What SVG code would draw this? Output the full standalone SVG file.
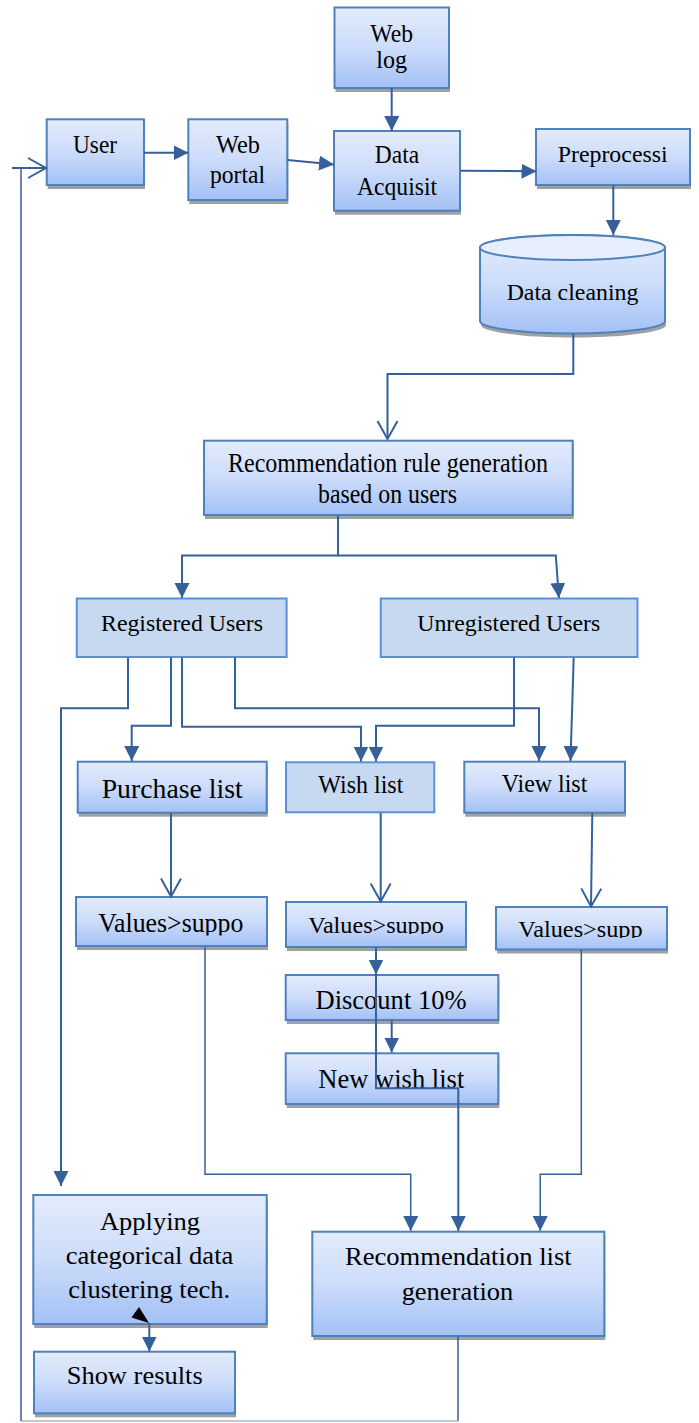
<svg xmlns="http://www.w3.org/2000/svg" width="699" height="1423" viewBox="0 0 699 1423">
<style>
.box{fill:url(#g);stroke:#4f81bd;stroke-width:2}
.flat{fill:#c6d9f1;stroke:#5b8fd9;stroke-width:2}
.sh{fill:#a0a0a0}
.t{font-family:"Liberation Serif","Times New Roman",serif;fill:#000;text-anchor:middle}
.c{fill:none;stroke:#36609a;stroke-width:2}
.c1{fill:none;stroke:#36609a;stroke-width:1.5}
.lt{fill:none;stroke:#a9b8cc;stroke-width:1.5}
</style>
<defs>
<linearGradient id="g" x1="0" y1="0" x2="0" y2="1">
<stop offset="0" stop-color="#e4ecfc"/>
<stop offset="0.5" stop-color="#ccdcfa"/>
<stop offset="1" stop-color="#a3c1f6"/>
</linearGradient>
<marker id="af" markerUnits="userSpaceOnUse" markerWidth="16" markerHeight="16" refX="15" refY="7.5" orient="auto" viewBox="0 0 16 16"><path d="M0,0 L15,7.5 L0,15 z" fill="#36609a"/></marker>
<marker id="av" markerUnits="userSpaceOnUse" markerWidth="22" markerHeight="24" refX="19" refY="11" orient="auto" viewBox="0 0 22 24"><path d="M1,1 L19,11 L1,21" fill="none" stroke="#36609a" stroke-width="2"/></marker>
<clipPath id="cv1"><rect x="70" y="890" width="205" height="45.5"/></clipPath>
<clipPath id="cv2"><rect x="280" y="895" width="195" height="39"/></clipPath>
<clipPath id="cv3"><rect x="490" y="900" width="185" height="38"/></clipPath>
</defs>

<g id="weblog"><rect class="sh" x="335.5" y="11.5" width="114.5" height="80.5"/><rect class="box" x="334.5" y="7.5" width="114.5" height="80.5"/>
<text class="t" x="391.7" y="41.7" font-size="25" textLength="42.7" lengthAdjust="spacingAndGlyphs">Web</text>
<text class="t" x="391.7" y="68" font-size="25" textLength="30.7" lengthAdjust="spacingAndGlyphs">log</text></g>

<g id="user"><rect class="sh" x="47.7" y="123.3" width="97.3" height="65.7"/><rect class="box" x="46.7" y="119.3" width="97.3" height="65.7"/>
<text class="t" x="95" y="152.7" font-size="26" textLength="44" lengthAdjust="spacingAndGlyphs">User</text></g>

<g id="webportal"><rect class="sh" x="189.3" y="123.3" width="99" height="80.7"/><rect class="box" x="188.3" y="119.3" width="99" height="80.7"/>
<text class="t" x="238" y="152.7" font-size="25" textLength="44" lengthAdjust="spacingAndGlyphs">Web</text>
<text class="t" x="237.5" y="182.7" font-size="25" textLength="55" lengthAdjust="spacingAndGlyphs">portal</text></g>

<g id="dataacq"><rect class="sh" x="335" y="135" width="126" height="79.7"/><rect class="box" x="334" y="131" width="126" height="79.7"/>
<text class="t" x="397" y="163.3" font-size="25" textLength="44.3" lengthAdjust="spacingAndGlyphs">Data</text>
<text class="t" x="397" y="195" font-size="25" textLength="80" lengthAdjust="spacingAndGlyphs">Acquisit</text></g>

<g id="preproc"><rect class="sh" x="537" y="133" width="154" height="56"/><rect class="box" x="536" y="129" width="154" height="56"/>
<text class="t" x="612.7" y="161.7" font-size="23" textLength="110" lengthAdjust="spacingAndGlyphs">Preprocessi</text></g>

<g id="datacleaning">
<path class="sh" d="M481,251.5 V325 A92.5,12.5 0 0 0 666,325 V251.5 Z"/>
<path class="box" d="M480,247.5 V321 A92.5,12.5 0 0 0 665,321 V247.5 A92.5,12.5 0 0 0 480,247.5 Z"/>
<ellipse cx="572.5" cy="247.5" rx="92.5" ry="12.5" fill="#e8effc" stroke="#4f81bd" stroke-width="2"/>
<text class="t" x="572.5" y="300" font-size="23" textLength="131.7" lengthAdjust="spacingAndGlyphs">Data cleaning</text></g>

<g id="recrule"><rect class="sh" x="205" y="444.7" width="368.7" height="74.3"/><rect class="box" x="204" y="440.7" width="368.7" height="74.3"/>
<text class="t" x="388" y="471.7" font-size="27" textLength="320" lengthAdjust="spacingAndGlyphs">Recommendation rule generation</text>
<text class="t" x="387.5" y="503" font-size="27" textLength="139" lengthAdjust="spacingAndGlyphs">based on users</text></g>

<g id="registered"><rect class="flat" x="76.8" y="598.5" width="209.8" height="58.5"/>
<text class="t" x="182" y="630.7" font-size="24" textLength="162" lengthAdjust="spacingAndGlyphs">Registered Users</text></g>

<g id="unregistered"><rect class="flat" x="380.8" y="598.5" width="256.7" height="58.5"/>
<text class="t" x="508.8" y="630.7" font-size="24" textLength="183" lengthAdjust="spacingAndGlyphs">Unregistered Users</text></g>

<g id="purchase"><rect class="sh" x="78.7" y="765.7" width="189" height="51"/><rect class="box" x="77.7" y="761.7" width="189" height="51"/>
<text class="t" x="172.2" y="797.7" font-size="27.5" textLength="141" lengthAdjust="spacingAndGlyphs">Purchase list</text></g>

<g id="wishlist"><rect class="flat" x="286" y="762.3" width="148.3" height="50"/>
<text class="t" x="360.8" y="793.3" font-size="25" textLength="85" lengthAdjust="spacingAndGlyphs">Wish list</text></g>

<g id="viewlist"><rect class="sh" x="465.3" y="765.7" width="160.7" height="51"/><rect class="box" x="464.3" y="761.7" width="160.7" height="51"/>
<text class="t" x="544.5" y="792.3" font-size="25" textLength="85.7" lengthAdjust="spacingAndGlyphs">View list</text></g>

<g id="values1"><rect class="sh" x="77" y="901" width="191" height="49"/><rect class="box" x="76" y="897" width="191" height="49"/>
<text class="t" x="170.8" y="931.7" font-size="27" textLength="145" lengthAdjust="spacingAndGlyphs" clip-path="url(#cv1)">Values&gt;suppo</text></g>

<g id="values2"><rect class="sh" x="287" y="906" width="180" height="45"/><rect class="box" x="286" y="902" width="180" height="45"/>
<text class="t" x="376" y="933.3" font-size="24" textLength="135.7" lengthAdjust="spacingAndGlyphs" clip-path="url(#cv2)">Values&gt;suppo</text></g>

<g id="values3"><rect class="sh" x="497" y="911" width="171" height="42.5"/><rect class="box" x="496" y="907" width="171" height="42.5"/>
<text class="t" x="580.5" y="937.3" font-size="24" textLength="124.3" lengthAdjust="spacingAndGlyphs" clip-path="url(#cv3)">Values&gt;supp</text></g>

<g id="discount"><rect class="sh" x="286.7" y="979" width="212.6" height="45"/><rect class="box" x="285.7" y="975" width="212.6" height="45"/>
<text class="t" x="391" y="1009" font-size="27.5" textLength="151" lengthAdjust="spacingAndGlyphs">Discount 10%</text></g>

<g id="newwish"><rect class="sh" x="286.7" y="1057.3" width="212.6" height="50.7"/><rect class="box" x="285.7" y="1053.3" width="212.6" height="50.7"/>
<text class="t" x="391.3" y="1087.7" font-size="27.5" textLength="146" lengthAdjust="spacingAndGlyphs">New wish list</text></g>

<g id="applying"><rect class="sh" x="34.3" y="1199" width="233.4" height="129"/><rect class="box" x="33.3" y="1195" width="233.4" height="129"/>
<text class="t" x="150" y="1230" font-size="25.5" textLength="100" lengthAdjust="spacingAndGlyphs">Applying</text>
<text class="t" x="149.5" y="1264" font-size="25.5" textLength="167.7" lengthAdjust="spacingAndGlyphs">categorical data</text>
<text class="t" x="149.2" y="1298.3" font-size="25.5" textLength="161.7" lengthAdjust="spacingAndGlyphs">clustering tech.</text></g>

<g id="showresults"><rect class="sh" x="35" y="1355.7" width="201" height="61.6"/><rect class="box" x="34" y="1351.7" width="201" height="61.6"/>
<text class="t" x="134.7" y="1384" font-size="25.5" textLength="136" lengthAdjust="spacingAndGlyphs">Show results</text></g>

<g id="reclist"><rect class="sh" x="313.3" y="1235.7" width="292" height="104.3"/><rect class="box" x="312.3" y="1231.7" width="292" height="104.3"/>
<text class="t" x="458.3" y="1265" font-size="26" textLength="226.7" lengthAdjust="spacingAndGlyphs">Recommendation list</text>
<text class="t" x="457.5" y="1300" font-size="26" textLength="111.7" lengthAdjust="spacingAndGlyphs">generation</text></g>

<g id="connectors">
<path class="c" d="M391.7,88 V131" marker-end="url(#af)"/>
<path class="c" d="M144,152.7 H188.5" marker-end="url(#af)"/>
<path class="c" d="M287.5,160 L334,164.5" marker-end="url(#af)"/>
<path class="c" d="M460.5,170.7 L536.5,171.3" marker-end="url(#af)"/>
<path class="c" d="M613.3,185.5 V235" marker-end="url(#af)"/>
<path class="c" d="M573.3,333.5 V374 H387.5 V439" marker-end="url(#av)"/>
<path class="c" d="M338,515.5 V555.5 H182 V598" marker-end="url(#af)"/>
<path class="c" d="M338,555.5 H555.8 L558.9,598" marker-end="url(#af)"/>
<path class="c" d="M128,657.5 V708.3 H61 V1186" marker-end="url(#af)"/>
<path class="c" d="M171,657.5 V725.7 H131.7 V761" marker-end="url(#af)"/>
<path class="c" d="M182,657.5 V726.7 H361 V761.5" marker-end="url(#af)"/>
<path class="c" d="M235,657.5 V708.3 H539 V761" marker-end="url(#af)"/>
<path class="c" d="M514,657.5 V725.7 H376 V761.5" marker-end="url(#af)"/>
<path class="c" d="M573.7,657.5 L570.5,761" marker-end="url(#af)"/>
<path class="c" d="M171,813 V896.5" marker-end="url(#av)"/>
<path class="c" d="M380.7,813 V901.5" marker-end="url(#av)"/>
<path class="c" d="M592.3,813 L591,906.5" marker-end="url(#av)"/>
<path class="c" d="M376,947.5 V974.5" marker-end="url(#af)"/>
<path class="c" d="M376,947.5 V1088.3 H458.3 V1231" marker-end="url(#af)"/>
<path class="c" d="M391.7,1020.5 V1052.5" marker-end="url(#af)"/>
<path class="c1" d="M205,946.5 V1174.3 H410.7 V1231" marker-end="url(#af)"/>
<path class="c1" d="M581.3,950 V1174.3 H540.2 V1231" marker-end="url(#af)"/>
<path class="c" d="M149.3,1323 V1351.5" marker-end="url(#af)"/>
<polygon points="139,1307 131.5,1317.5 149,1323" fill="#000"/>
<path class="c1" d="M458,1336.5 V1421"/>
<path class="lt" d="M458,1421 H21"/>
<path class="c1" d="M21,1421 V167.5"/>
<path class="c" d="M12,168 H46" marker-end="url(#av)"/>
</g>
</svg>
